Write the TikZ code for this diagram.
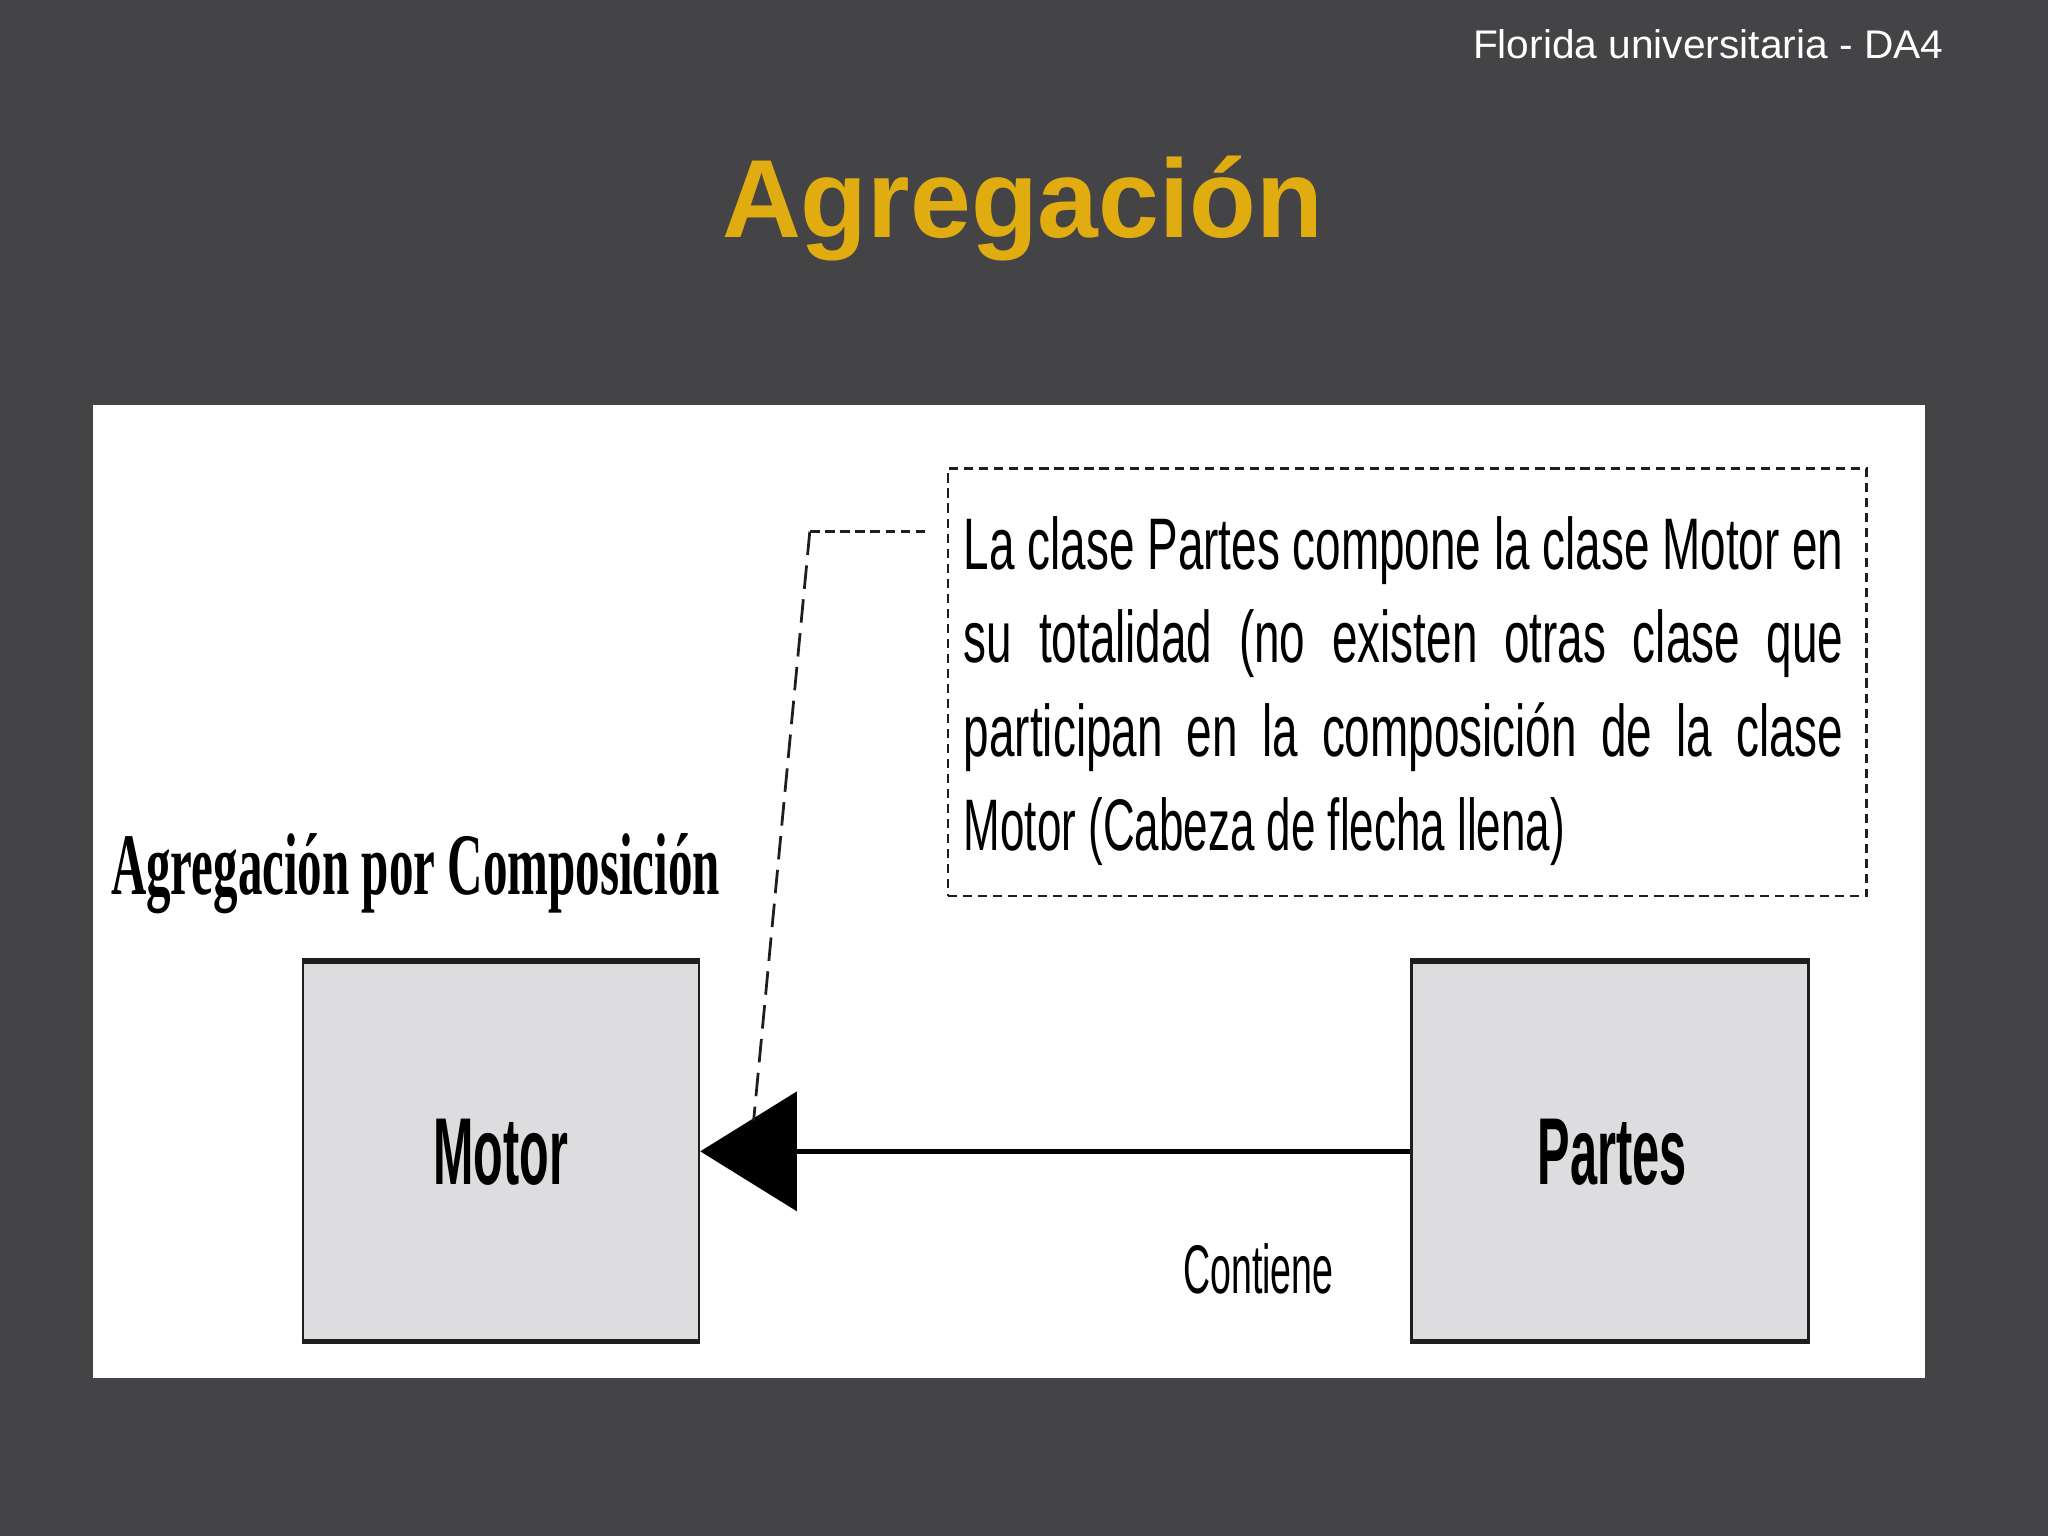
\documentclass[tikz,border=0pt]{standalone}
\usepackage{fontspec}
\setmainfont{Liberation Sans}
\newfontfamily\labelserif{Liberation Serif}
\usetikzlibrary{arrows.meta}
\definecolor{bg}{RGB}{68,68,70}
\definecolor{gold}{RGB}{224,172,16}
\definecolor{boxfill}{RGB}{221,221,223}
\definecolor{ink}{RGB}{30,30,30}
\newlength\notew
\newcommand\notefont{\fontsize{15.9pt}{18pt}\selectfont}
\begin{document}
\settowidth\notew{\notefont La clase Partes compone la clase Motor en}%
\begin{tikzpicture}[x=0.01cm,y=-0.01cm,
  classbox/.style={fill=boxfill, draw=ink, line width=0.6pt, inner sep=0pt},
  plain/.style={inner sep=0pt, outer sep=0pt},
  notebox/.style={draw=ink, line width=0.6pt, dash pattern=on 0.07cm off 0.045cm, inner sep=0pt, minimum width=7.03cm, minimum height=3.27cm},
  notelink/.style={draw=ink, line width=0.6pt},
  assoc/.style={draw=black, line width=1pt, -{Triangle[length=0.74cm,width=0.91cm]}}]
\useasboundingbox (0,0) rectangle (1568,1176);
\fill[bg] (0,0) rectangle (1568,1176);
% header and title
\node[plain, anchor=base east, text=white] (hdr) at (1488,45)
  {\resizebox{3.60cm}{\height}{\fontsize{8.7pt}{10pt}\selectfont Florida universitaria - DA4}};
\node[plain, anchor=base, text=gold] (title) at (783,182)
  {\resizebox{4.60cm}{\height}{\fontsize{24.2pt}{28pt}\selectfont\bfseries Agregación}};
% white panel
\fill[white] (71,310) rectangle (1474,1055);
% left label
\node[plain, anchor=base west] (lbl) at (85,685)
  {\resizebox{4.66cm}{\height}{\fontsize{19.1pt}{22pt}\labelserif\bfseries Agregación por Composición}};
% note box
\node[notebox] (note) at (1077.5,522.5) {};
\node[plain, anchor=base west] (l1) at (738,436)
  {\resizebox{6.73cm}{\height}{\makebox[\notew][s]{\notefont La clase Partes compone la clase Motor en}}};
\node[plain, anchor=base west] (l2) at (738,507)
  {\resizebox{6.73cm}{\height}{\makebox[\notew][s]{\notefont su totalidad (no existen otras clase que}}};
\node[plain, anchor=base west] (l3) at (738,579)
  {\resizebox{6.73cm}{\height}{\makebox[\notew][s]{\notefont participan en la composición de la clase}}};
\node[plain, anchor=base west] (l4) at (738,651)
  {\resizebox{4.60cm}{\height}{\notefont Motor (Cabeza de flecha llena)}};
% classes
\node[classbox, minimum width=3.03cm, minimum height=2.89cm] (motor) at (383.5,881.5) {};
\node[classbox, minimum width=3.04cm, minimum height=2.89cm] (partes) at (1232.5,881.5) {};
\foreach \b in {motor,partes}{
  \draw[ink, line width=1.2pt] (\b.north west) -- (\b.north east);
  \draw[ink, line width=1.2pt] (\b.south west) -- (\b.south east);
}
\node[plain, anchor=base] (motortxt) at (383.5,907)
  {\resizebox{1.03cm}{\height}{\fontsize{20.7pt}{24pt}\selectfont\bfseries Motor}};
\node[plain, anchor=base] (partestxt) at (1234.5,907)
  {\resizebox{1.14cm}{\height}{\fontsize{20.7pt}{24pt}\selectfont\bfseries Partes}};
% association
\draw[assoc] (partes.west) -- (motor.east);
\node[plain, anchor=base west] (contiene) at (906,990)
  {\resizebox{1.15cm}{\height}{\fontsize{15pt}{18pt}\selectfont Contiene}};
% dashed note link
\coordinate (ns) at (708,407);
\coordinate (bend) at (620,407);
\coordinate (tipedge) at (577,858);
\draw[notelink, dash pattern=on 0.07cm off 0.045cm] (ns) -- (bend);
\draw[notelink, dash pattern=on 0.18cm off 0.08cm] (bend) -- (tipedge);
\end{tikzpicture}
\end{document}
